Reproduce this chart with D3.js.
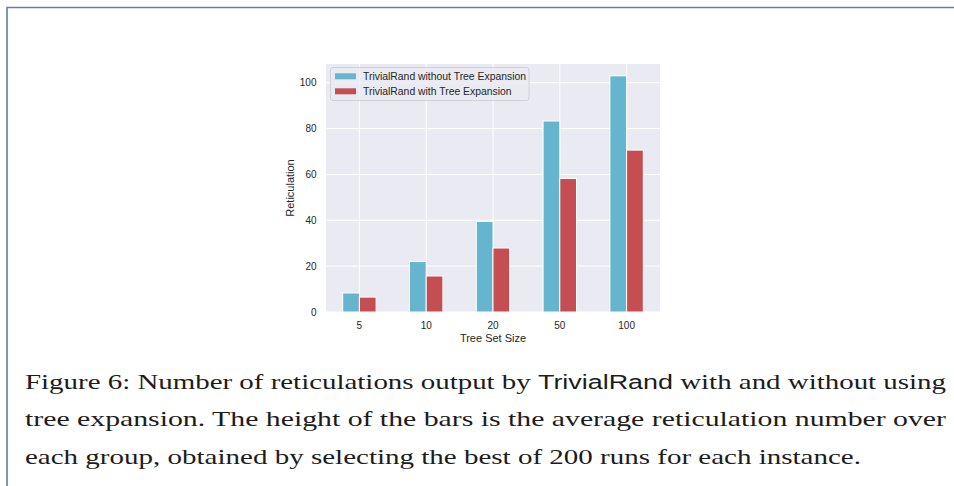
<!DOCTYPE html>
<html>
<head>
<meta charset="utf-8">
<script src="https://cdn.jsdelivr.net/npm/d3@7"></script>
<style>
  body { margin: 0; background: #fff; }
  svg { display: block; }
</style>
</head>
<body>
<svg id="fig" width="954" height="486"></svg>
<script>
// tree set sizes (groups) and the two series
var sizes = ['5', '10', '20', '50', '100'];
var withoutExp = [8.3, 22.0, 39.5, 83.3, 103.0];
var withExp = [6.5, 15.7, 27.9, 58.2, 70.6];
var yTicks = [0, 20, 40, 60, 80, 100];
var seriesNames = ['TrivialRand without Tree Expansion', 'TrivialRand with Tree Expansion'];
var seriesColors = ['#64b5cd', '#c44e52'];

var svg = d3.select('#fig');

// page frame (left + top rule)
svg.append('path')
  .attr('d', 'M7,486 L7,7.5 L954,7.5')
  .attr('fill', 'none')
  .attr('stroke', '#5f7f9f')
  .attr('stroke-width', 1.6);

var plot = { left: 326, right: 660, top: 64, bottom: 312 };

var x = d3.scaleBand().domain(sizes).range([plot.left, plot.right]).padding(0);
var yMax = d3.max(withoutExp.concat(withExp)) * 1.05;
var y = d3.scaleLinear().domain([0, yMax]).range([plot.bottom, plot.top]);

var chart = svg.append('g').attr('font-family', 'Liberation Sans, Arial, sans-serif');

chart.append('rect')
  .attr('x', plot.left).attr('y', plot.top)
  .attr('width', plot.right - plot.left).attr('height', plot.bottom - plot.top)
  .attr('fill', '#eaeaf2');

// grid
chart.append('g').selectAll('line.h').data(yTicks).join('line')
  .attr('x1', plot.left).attr('x2', plot.right)
  .attr('y1', function(d) { return y(d); }).attr('y2', function(d) { return y(d); })
  .attr('stroke', '#fff').attr('stroke-width', 1);
chart.append('g').selectAll('line.v').data(sizes).join('line')
  .attr('x1', function(d) { return x(d) + x.bandwidth() / 2; })
  .attr('x2', function(d) { return x(d) + x.bandwidth() / 2; })
  .attr('y1', plot.top).attr('y2', plot.bottom)
  .attr('stroke', '#fff').attr('stroke-width', 1);

// bars
var barW = x.bandwidth() * 0.25;
var series = [withoutExp, withExp];
series.forEach(function(vals, si) {
  chart.append('g').selectAll('rect').data(vals).join('rect')
    .attr('x', function(d, i) { return x(sizes[i]) + x.bandwidth() / 2 + (si - 1) * barW; })
    .attr('y', function(d) { return y(d); })
    .attr('width', barW)
    .attr('height', function(d) { return y(0) - y(d); })
    .attr('fill', seriesColors[si])
    .attr('stroke', '#fff').attr('stroke-width', 1);
});

// axes (no tick marks, no domain line)
var yAxis = chart.append('g')
  .attr('transform', 'translate(' + plot.left + ',0)')
  .call(d3.axisLeft(y).tickValues(yTicks).tickSize(0).tickPadding(9.5));
var xAxis = chart.append('g')
  .attr('transform', 'translate(0,' + plot.bottom + ')')
  .call(d3.axisBottom(x).tickSize(0).tickPadding(10));
[yAxis, xAxis].forEach(function(a) {
  a.select('.domain').remove();
  a.selectAll('text').attr('font-size', 10).attr('fill', '#262626')
    .attr('font-family', 'Liberation Sans, Arial, sans-serif');
});

chart.append('text')
  .attr('x', (plot.left + plot.right) / 2).attr('y', 342.2)
  .attr('text-anchor', 'middle').attr('font-size', 11).attr('fill', '#262626')
  .text('Tree Set Size');
chart.append('text')
  .attr('transform', 'translate(294,' + ((plot.top + plot.bottom) / 2) + ') rotate(-90)')
  .attr('text-anchor', 'middle').attr('font-size', 11).attr('fill', '#262626')
  .text('Reticulation');

// legend
var leg = chart.append('g');
leg.append('rect')
  .attr('x', 330.5).attr('y', 67.5).attr('width', 198.5).attr('height', 33)
  .attr('rx', 2.5)
  .attr('fill', '#eaeaf2').attr('fill-opacity', 0.8)
  .attr('stroke', '#cccccc').attr('stroke-width', 0.8);
seriesNames.forEach(function(name, i) {
  leg.append('rect')
    .attr('x', 335).attr('y', 73.3 + i * 15).attr('width', 21).attr('height', 6)
    .attr('fill', seriesColors[i]);
  leg.append('text')
    .attr('x', 363).attr('y', 80.2 + i * 14.8)
    .attr('font-size', 10.4).attr('fill', '#262626')
    .text(name);
});

// caption
var caption = svg.append('g')
  .attr('font-family', 'Liberation Serif, Times New Roman, serif')
  .attr('font-size', 21.5).attr('fill', '#1c1c1c');
var capLines = [
  { y: 389, len: 921, parts: ['Figure 6: Number of reticulations output by ', 'TrivialRand', ' with and without using'] },
  { y: 426, len: 921, parts: ['tree expansion. The height of the bars is the average reticulation number over'] },
  { y: 463.5, len: 836, parts: ['each group, obtained by selecting the best of 200 runs for each instance.'] }
];
capLines.forEach(function(l) {
  var t = caption.append('text').attr('x', 25).attr('y', l.y)
    .attr('textLength', l.len).attr('lengthAdjust', 'spacingAndGlyphs');
  l.parts.forEach(function(p) {
    var ts = t.append('tspan').text(p);
    if (p === 'TrivialRand') ts.attr('font-family', 'Liberation Sans, Arial, sans-serif').attr('font-size', 20);
  });
});
</script>
</body>
</html>
